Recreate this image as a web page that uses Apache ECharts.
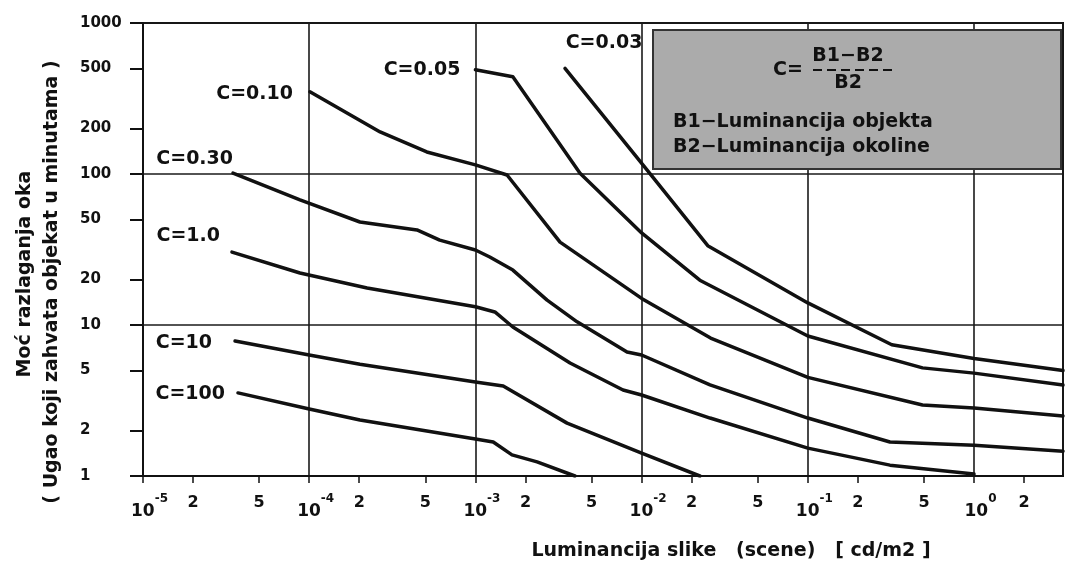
<!DOCTYPE html>
<html><head><meta charset="utf-8">
<script src="https://cdn.jsdelivr.net/npm/echarts@6/dist/echarts.min.js"></script>
<style>html,body{margin:0;padding:0;background:#fff}#c{width:1067px;height:564px}</style>
</head><body><div id="c"></div>
<script>
// ---- data (x: luminance cd/m2, y: resolving power, minutes of arc) ----
const curveNames = ['C=0.03', 'C=0.05', 'C=0.10', 'C=0.30', 'C=1.0', 'C=10', 'C=100'];
const c003 = [[3.46e-3, 500], [1.08e-2, 106], [2.5e-2, 33.5], [0.1, 14], [0.32, 7.4], [1, 6.0], [3.43, 5.0]];
const c005 = [[1e-3, 490], [1.68e-3, 440], [4.26e-3, 101], [1e-2, 40.7], [2.24e-2, 19.8], [0.1, 8.45], [0.49, 5.2], [1, 4.8], [3.43, 4.0]];
const c010 = [[1.01e-4, 350], [2.67e-4, 190], [5.1e-4, 140], [1e-3, 115], [1.55e-3, 98.5], [3.23e-3, 35.4], [1e-2, 15], [2.6e-2, 8.2], [0.1, 4.5], [0.49, 2.95], [1, 2.82], [3.43, 2.5]];
const c030 = [[3.48e-5, 101.5], [8.8e-5, 67.3], [2.02e-4, 48.1], [4.45e-4, 42.6], [6.1e-4, 36.5], [1e-3, 31.4], [1.22e-3, 28.2], [1.68e-3, 23.1], [2.7e-3, 14.6], [4.09e-3, 10.5], [8.17e-3, 6.62], [1e-2, 6.33], [2.58e-2, 4.01], [0.1, 2.42], [0.312, 1.68], [1, 1.6], [3.43, 1.46]];
const c1 = [[3.43e-5, 30.4], [8.8e-5, 22.1], [2.23e-4, 17.6], [1e-3, 13.2], [1.31e-3, 12.2], [1.68e-3, 9.7], [3.71e-3, 5.6], [7.73e-3, 3.71], [1e-2, 3.44], [2.58e-2, 2.42], [0.1, 1.53], [0.312, 1.18], [1, 1.03]];
const c10 = [[3.58e-5, 7.84], [1e-4, 6.33], [2.02e-4, 5.5], [1e-3, 4.19], [1.47e-3, 3.94], [3.56e-3, 2.24], [1e-2, 1.42], [2.24e-2, 1.0]];
const c100 = [[3.73e-5, 3.55], [1e-4, 2.78], [2.02e-4, 2.35], [1e-3, 1.76], [1.28e-3, 1.68], [1.66e-3, 1.38], [2.35e-3, 1.24], [3.97e-3, 1.0]];
const curveData = [c003, c005, c010, c030, c1, c10, c100];

const xTickValues = [1e-5, 2e-5, 5e-5, 1e-4, 2e-4, 5e-4, 1e-3, 2e-3, 5e-3, 1e-2, 2e-2, 5e-2, 1e-1, 2e-1, 5e-1, 1, 2];
const yTickValues = [1, 2, 5, 10, 20, 50, 100, 200, 500, 1000];
const xMin = 1e-5, xMax = 3.43, yMin = 1, yMax = 1000;

const xAxisName = 'Luminancija slike   (scene)   [ cd/m2 ]';
const yAxisName1 = 'Moć razlaganja oka';
const yAxisName2 = '( Ugao koji zahvata objekat u minutama )';
const boxLine1 = 'B1−Luminancija objekta';
const boxLine2 = 'B2−Luminancija okoline';

// ---- styles ----
const FF = '"DejaVu Sans", sans-serif';
const INK = '#111';
const labelCfg = {
  'C=0.03': { position: 'top', distance: 16, offset: [39, 0] },
  'C=0.05': { position: 'left', distance: 15, offset: [0, 0] },
  'C=0.10': { position: 'left', distance: 17, offset: [0, 2] },
  'C=0.30': { position: 'left', distance: 0, offset: [0, -14] },
  'C=1.0': { position: 'left', distance: 12, offset: [0, -16] },
  'C=10': { position: 'left', distance: 23, offset: [0, 2] },
  'C=100': { position: 'left', distance: 13, offset: [0, 1] }
};

function fmtX(v) {
  const e = Math.floor(Math.log10(v) + 1e-9);
  const m = Math.round(v / Math.pow(10, e));
  if (m === 1) return '{p|}{b|10}{s|' + e + '}';
  return '{m|' + m + '}';
}

const series = curveNames.map((name, i) => ({
  type: 'line',
  name: name,
  data: curveData[i],
  xAxisIndex: 0, yAxisIndex: 0,
  symbol: 'none',
  smooth: false,
  lineStyle: { color: INK, width: 3.5, join: 'round', cap: 'round' },
  z: 4,
  silent: true,
  markPoint: {
    silent: true,
    symbol: 'circle',
    symbolSize: 0,
    itemStyle: { color: 'rgba(0,0,0,0)' },
    data: [{ name: name, coord: curveData[i][0] }],
    label: Object.assign({
      show: true,
      formatter: name,
      color: INK,
      fontFamily: FF,
      fontWeight: 'bold',
      fontSize: 19
    }, labelCfg[name])
  }
}));

const chart = echarts.init(document.getElementById('c'), null, { renderer: 'canvas' });
chart.setOption({
  animation: false,
  backgroundColor: '#fff',
  grid: { left: 143, right: 4, top: 23, bottom: 88, show: true, borderColor: INK, borderWidth: 2, backgroundColor: 'transparent' },
  xAxis: [
    {
      type: 'log', logBase: 10, min: xMin, max: xMax, position: 'bottom',
      axisLine: { show: true, onZero: false, lineStyle: { color: INK, width: 2 } },
      axisTick: { show: true, customValues: xTickValues, length: 7, lineStyle: { color: INK, width: 1.5 } },
      axisLabel: {
        customValues: xTickValues, formatter: fmtX, margin: 17, color: INK,
        rich: {
          p: { width: 13, lineHeight: 30 },
          b: { fontSize: 17, fontWeight: 'bold', fontFamily: FF, color: INK, lineHeight: 30, padding: [10, 0, 0, 0], verticalAlign: 'top' },
          s: { fontSize: 12, fontWeight: 'bold', fontFamily: FF, color: INK, lineHeight: 30, padding: [0, 0, 0, 0], verticalAlign: 'top' },
          m: { fontSize: 16, fontWeight: 'bold', fontFamily: FF, color: INK, lineHeight: 30, padding: [2, 0, 0, 0], verticalAlign: 'top' }
        }
      },
      splitLine: { show: false }
    },
    {
      type: 'log', logBase: 10, min: xMin, max: xMax, position: 'top',
      axisLine: { show: false }, axisTick: { show: false }, axisLabel: { show: false },
      splitLine: { show: true, lineStyle: { color: '#1a1a1a', width: 1.6 } }
    }
  ],
  yAxis: [
    {
      type: 'log', logBase: 10, min: yMin, max: yMax, position: 'left',
      axisLine: { show: true, onZero: false, lineStyle: { color: INK, width: 2 } },
      axisTick: { show: true, customValues: yTickValues, length: 13, lineStyle: { color: INK, width: 2 } },
      axisLabel: { customValues: yTickValues, align: 'left', margin: 63, color: INK, fontFamily: FF, fontWeight: 'bold', fontSize: 15, formatter: v => String(Math.round(v)) },
      splitLine: { show: false }
    },
    {
      type: 'log', logBase: 10, min: yMin, max: yMax, position: 'right',
      axisLine: { show: false }, axisTick: { show: false }, axisLabel: { show: false },
      splitLine: { show: true, lineStyle: { color: '#1a1a1a', width: 1.6 } }
    }
  ],
  series: series,
  graphic: [
    { type: 'rect', z: 10, shape: { x: 653, y: 30, width: 408, height: 139 }, style: { fill: '#ababab', stroke: '#333', lineWidth: 2 } },
    { type: 'text', z: 11, x: 773, y: 70, style: { text: 'C=', fill: INK, font: 'bold 19px ' + FF, align: 'left', verticalAlign: 'middle', textAlign: 'left', textVerticalAlign: 'middle' } },
    { type: 'text', z: 11, x: 848, y: 56, style: { text: 'B1−B2', fill: INK, font: 'bold 19px ' + FF, align: 'center', verticalAlign: 'middle', textAlign: 'center', textVerticalAlign: 'middle' } },
    { type: 'line', z: 11, shape: { x1: 813, y1: 70, x2: 897, y2: 70 }, style: { stroke: INK, lineWidth: 2, lineDash: [9, 5] } },
    { type: 'text', z: 11, x: 848, y: 83, style: { text: 'B2', fill: INK, font: 'bold 19px ' + FF, align: 'center', verticalAlign: 'middle', textAlign: 'center', textVerticalAlign: 'middle' } },
    { type: 'text', z: 11, x: 673, y: 122, style: { text: boxLine1, fill: INK, font: 'bold 19px ' + FF, align: 'left', verticalAlign: 'middle', textAlign: 'left', textVerticalAlign: 'middle' } },
    { type: 'text', z: 11, x: 673, y: 147, style: { text: boxLine2, fill: INK, font: 'bold 19px ' + FF, align: 'left', verticalAlign: 'middle', textAlign: 'left', textVerticalAlign: 'middle' } },
    { type: 'text', z: 11, x: 25, y: 274, rotation: Math.PI / 2, style: { text: yAxisName1, fill: INK, font: 'bold 19px ' + FF, align: 'center', verticalAlign: 'middle', textAlign: 'center', textVerticalAlign: 'middle' } },
    { type: 'text', z: 11, x: 52, y: 282, rotation: Math.PI / 2, style: { text: yAxisName2, fill: INK, font: 'bold 19px ' + FF, align: 'center', verticalAlign: 'middle', textAlign: 'center', textVerticalAlign: 'middle' } },
    { type: 'text', z: 11, x: 731, y: 551, style: { text: xAxisName, fill: INK, font: 'bold 19px ' + FF, align: 'center', verticalAlign: 'middle', textAlign: 'center', textVerticalAlign: 'middle' } }
  ]
});
</script></body></html>
